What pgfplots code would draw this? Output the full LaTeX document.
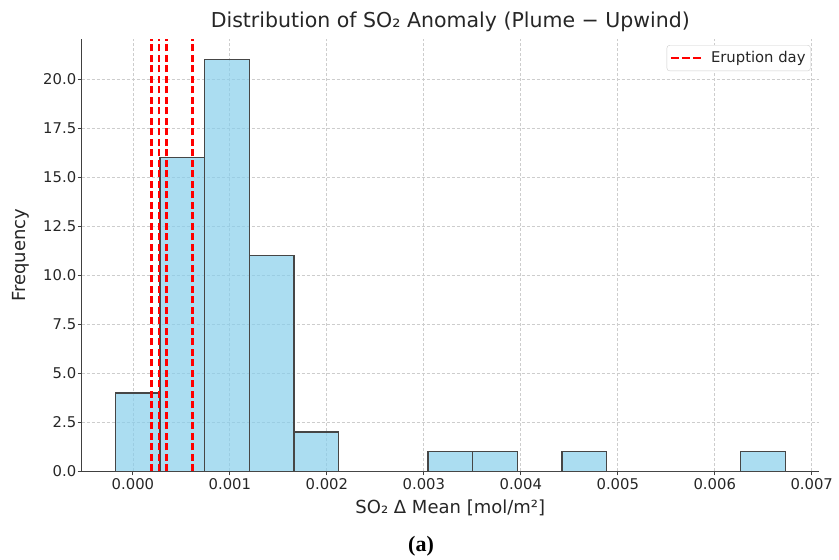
\documentclass[border=0pt]{standalone}
\usepackage{fontspec}
\setmainfont{DejaVu Sans}
\newfontfamily\capfont{Liberation Serif}
\usepackage{pgfplots}
\pgfplotsset{compat=1.18}

\definecolor{barfill}{RGB}{135,206,235}
\definecolor{baredge}{RGB}{70,70,70}
\definecolor{txt}{RGB}{38,38,38}
\definecolor{gridc}{RGB}{205,205,205}

\newcommand{\tickfont}{\fontsize{14.8bp}{17bp}\selectfont}
\newcommand{\labfont}{\fontsize{18bp}{21bp}\selectfont}

\begin{document}
\begin{tikzpicture}
\useasboundingbox (0bp,0bp) rectangle (839bp,560bp);
\begin{axis}[
  at={(81.7bp,88.7bp)}, anchor=south west,
  scale only axis, width=737.2bp, height=432.3bp,
  xmin=-0.000528, xmax=0.007074, ymin=0, ymax=22.05,
  axis lines*=left,
  axis line style={draw=black!75, line width=1.1bp},
  tick align=outside, major tick length=4bp,
  tick style={draw=black!75, line width=1bp},
  xtick={0,0.001,0.002,0.003,0.004,0.005,0.006,0.007},
  ytick={0,2.5,5,7.5,10,12.5,15,17.5,20},
  scaled x ticks=false,
  x tick label style={/pgf/number format/fixed, /pgf/number format/fixed zerofill, /pgf/number format/precision=3},
  y tick label style={/pgf/number format/fixed, /pgf/number format/fixed zerofill, /pgf/number format/precision=1, xshift=2bp},
  /pgf/number format/assume math mode=true,
  tick label style={font=\tickfont, text=txt},
  grid=major, grid style={gridc, dash pattern=on 3bp off 2bp, line width=0.8bp},
  title={Distribution of SO₂ Anomaly (Plume − Upwind)},
  title style={at={(0.5,1.027)}, anchor=center, font=\fontsize{20.5bp}{24bp}\selectfont, text=txt},
  xlabel={SO₂ Δ Mean [mol/m²]},
  xlabel style={at={(axis description cs:0.5,-0.0849)}, anchor=center, font=\labfont, text=txt},
  ylabel={Frequency},
  ylabel style={at={(axis description cs:-0.083,0.5)}, anchor=center, font=\labfont, text=txt},
  legend style={at={(0.9889,0.9861)}, anchor=north east, draw=gridc, rounded corners=3bp,
    fill=white, font=\tickfont, text=txt, inner xsep=3bp, inner ysep=4.5bp,
    /tikz/every odd column/.append style={column sep=7bp}},
  legend cell align=left,
  legend image code/.code={\draw[#1, dash pattern=on 8bp off 3bp] (0bp,0bp) -- (30bp,0bp);},
]
% histogram of the plume-minus-upwind anomaly (15 equal bins)
\addplot[ybar interval, fill=barfill, fill opacity=0.7, draw=baredge,
  line width=1.3bp, forget plot] table {
x y
-0.000182 4
0.000279 16
0.000739 21
0.001200 11
0.001661 2
0.002121 0
0.002582 0
0.003043 1
0.003503 1
0.003964 0
0.004425 1
0.004885 0
0.005346 0
0.005807 0
0.006267 1
0.006728 0
};
% eruption days
\addplot[red, line width=2.2bp, dash pattern=on 7bp off 3.5bp] coordinates {(0.000192,0) (0.000192,22.05)};
\addlegendentry{Eruption day}
\addplot[red, line width=2.2bp, dash pattern=on 7bp off 3.5bp, forget plot] coordinates {(0.000268,0) (0.000268,22.05)};
\addplot[red, line width=2.2bp, dash pattern=on 7bp off 3.5bp, forget plot] coordinates {(0.000346,0) (0.000346,22.05)};
\addplot[red, line width=2.2bp, dash pattern=on 7bp off 3.5bp, forget plot] coordinates {(0.000614,0) (0.000614,22.05)};
\end{axis}
\node[font=\capfont\bfseries\fontsize{22bp}{26bp}\selectfont, text=black] at (421bp,14bp) {(a)};
\end{tikzpicture}
\end{document}
